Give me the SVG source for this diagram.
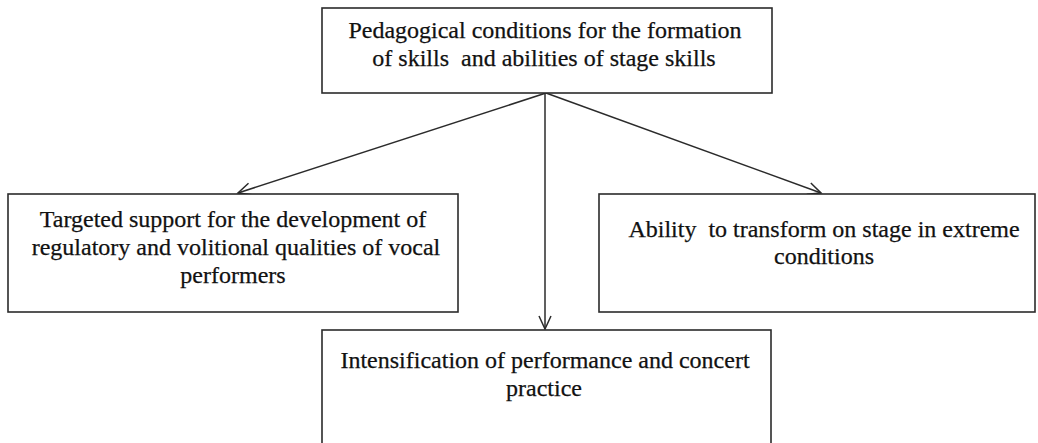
<svg xmlns="http://www.w3.org/2000/svg" width="1038" height="443" viewBox="0 0 1038 443">
<defs>
<style>
.box{fill:#fff;stroke:#2b2b2b;stroke-width:1.6}
.t{font-family:"Liberation Serif","Times New Roman",serif;font-size:24px;fill:#111;stroke:#111;stroke-width:0.25;text-anchor:middle}
.c{fill:none;stroke:#2b2b2b;stroke-width:1.5}
</style>
<marker id="arr" markerUnits="userSpaceOnUse" markerWidth="18" markerHeight="16" viewBox="-15 -8 17 16" refX="0" refY="0" orient="auto">
<path d="M-13,-6 L0,0 L-13,6" fill="none" stroke="#2b2b2b" stroke-width="1.5"/>
</marker>
</defs>
<rect width="1038" height="443" fill="#fff"/>
<g id="connectors">
<line class="c" x1="546" y1="93" x2="238" y2="193" marker-end="url(#arr)"/>
<line class="c" x1="546" y1="93" x2="821" y2="193" marker-end="url(#arr)"/>
<line class="c" x1="545" y1="93" x2="545" y2="329" marker-end="url(#arr)"/>
</g>
<g id="node-top">
<rect class="box" x="322" y="8" width="450" height="85"/>
<text class="t" x="545" y="38">Pedagogical conditions for the formation</text>
<text class="t" x="544" y="66" xml:space="preserve">of skills  and abilities of stage skills</text>
</g>
<g id="node-left">
<rect class="box" x="8" y="194" width="450" height="118"/>
<text class="t" x="233" y="227">Targeted support for the development of</text>
<text class="t" x="236" y="255">regulatory and volitional qualities of vocal</text>
<text class="t" x="233" y="283">performers</text>
</g>
<g id="node-right">
<rect class="box" x="599" y="194" width="436" height="118"/>
<text class="t" x="824" y="237" xml:space="preserve">Ability  to transform on stage in extreme</text>
<text class="t" x="824" y="264">conditions</text>
</g>
<g id="node-bottom">
<rect class="box" x="322" y="330" width="449" height="125"/>
<text class="t" x="545" y="368">Intensification of performance and concert</text>
<text class="t" x="544" y="396">practice</text>
</g>
</svg>
